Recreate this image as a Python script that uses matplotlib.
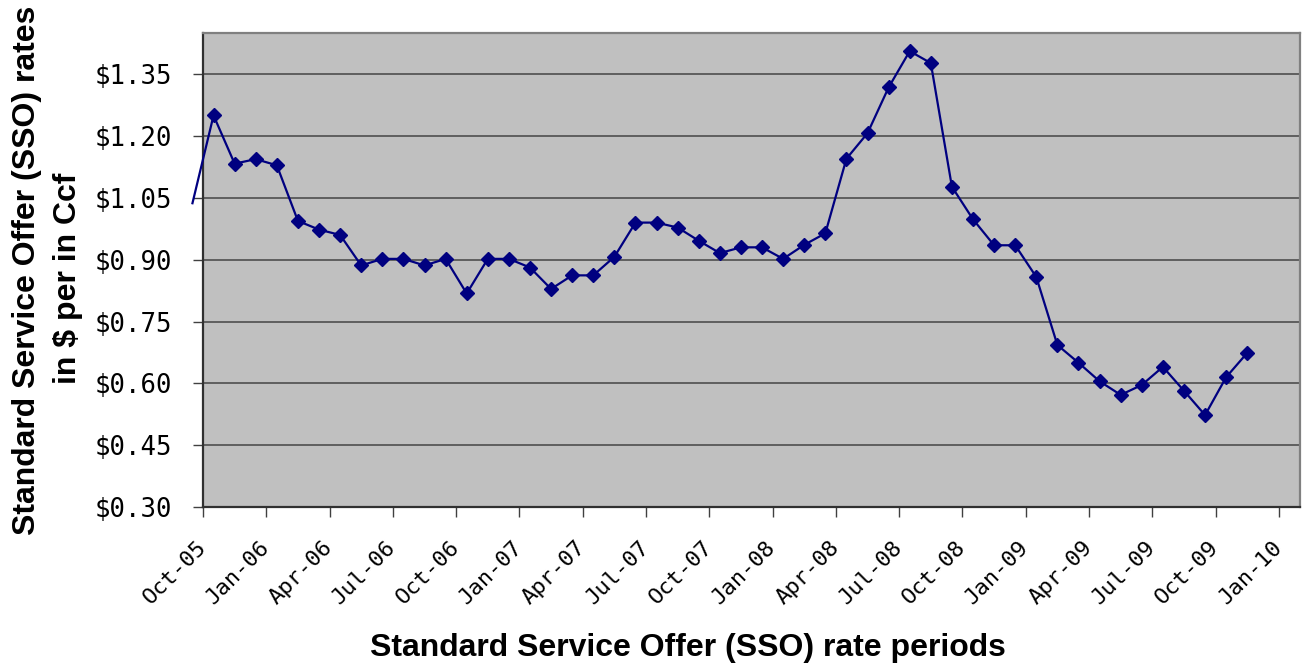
import matplotlib
matplotlib.use("Agg")
import matplotlib.pyplot as plt
from matplotlib.transforms import ScaledTranslation

# SSO rate per month, Oct-05 .. Nov-09 ($ per Ccf)
rates = [1.250, 1.133, 1.144, 1.129, 0.994, 0.973, 0.960, 0.886, 0.902, 0.902,
         0.886, 0.902, 0.818, 0.902, 0.902, 0.881, 0.829, 0.862, 0.862, 0.907,
         0.990, 0.990, 0.978, 0.946, 0.916, 0.930, 0.930, 0.902, 0.936, 0.964,
         1.145, 1.207, 1.318, 1.406, 1.377, 1.077, 0.998, 0.935, 0.935, 0.858,
         0.693, 0.650, 0.605, 0.572, 0.596, 0.640, 0.582, 0.523, 0.615, 0.674]
# previous period (Sep-05), only the connecting segment shows
prev_rate = 1.037

tick_labels = ["Oct-05", "Jan-06", "Apr-06", "Jul-06", "Oct-06", "Jan-07",
               "Apr-07", "Jul-07", "Oct-07", "Jan-08", "Apr-08", "Jul-08",
               "Oct-08", "Jan-09", "Apr-09", "Jul-09", "Oct-09", "Jan-10"]
y_ticks = [0.30, 0.45, 0.60, 0.75, 0.90, 1.05, 1.20, 1.35]

navy = "#000080"
grid_col = "#5f5f5f"

fig = plt.figure(figsize=(13.03, 6.66), dpi=100)
ax = fig.add_axes([203/1303, 1 - 507/666, 1097/1303, 474/666])
ax.set_facecolor("#c0c0c0")

x = [i + 0.5 for i in range(len(rates))]
ax.plot([-0.5, x[0]], [prev_rate, rates[0]], color=navy, lw=1.6, clip_on=False, zorder=3)
ax.plot(x, rates, color=navy, lw=1.6, marker="D", ms=6.8, mec=navy, mfc=navy, zorder=4)

ax.set_xlim(0, 52)
ax.set_ylim(0.30, 1.45)

ax.set_yticks(y_ticks)
ax.set_yticklabels(["$%.2f" % v for v in y_ticks], family="DejaVu Sans Mono", fontsize=18.5)
ax.set_xticks(range(0, 3 * len(tick_labels), 3))
ax.set_xticklabels(tick_labels, family="DejaVu Sans Mono", fontsize=16,
                   rotation=45, ha="right", va="center", rotation_mode="anchor")
# nudge the slanted labels a little left, like the original
shift = ScaledTranslation(-6/100, 3/100, fig.dpi_scale_trans)
for lbl in ax.get_xticklabels():
    lbl.set_transform(lbl.get_transform() + shift)

ax.yaxis.grid(True, color=grid_col, lw=1.4)
ax.set_axisbelow(True)
ax.tick_params(axis="y", length=7, width=1.0, color="#404040", pad=15)
ax.tick_params(axis="x", length=7, width=1.0, color="#404040", pad=20)

for side in ("left", "bottom"):
    ax.spines[side].set_color("#303030")
    ax.spines[side].set_linewidth(1.6)
for side in ("top", "right"):
    ax.spines[side].set_color("#808080")
    ax.spines[side].set_linewidth(1.6)

font_title = dict(family="Liberation Sans", weight="bold", fontsize=23)
fig.text(27/1303, 1 - 270/666, "Standard Service Offer (SSO) rates",
         rotation=90, ha="center", va="center", **font_title)
fig.text(68/1303, 1 - 278/666, "in $ per in Ccf",
         rotation=90, ha="center", va="center", **font_title)
fig.text(688/1303, 1 - 648/666, "Standard Service Offer (SSO) rate periods",
         ha="center", va="center", **font_title)

fig.savefig("out.png", dpi=100)
